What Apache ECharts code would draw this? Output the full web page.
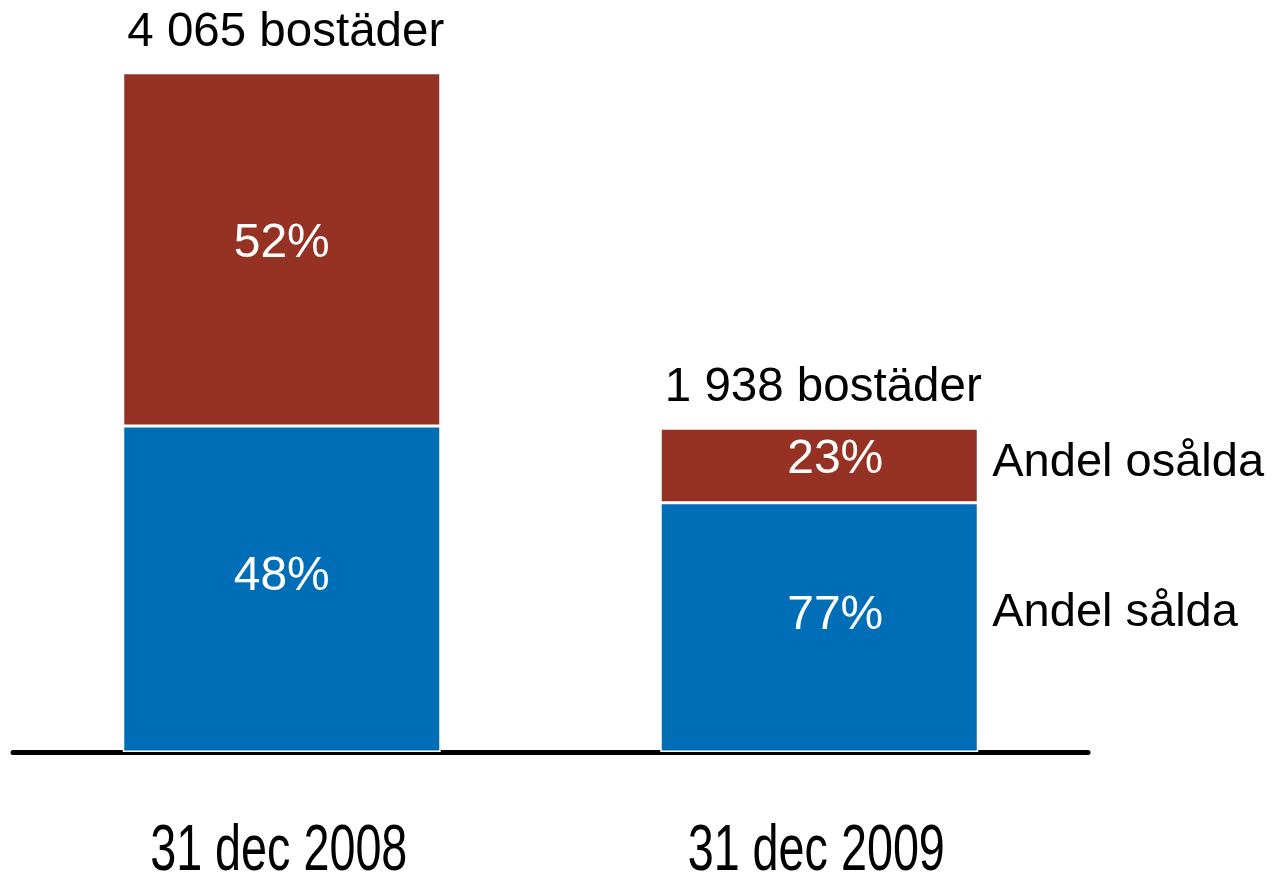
<!DOCTYPE html>
<html><head><meta charset="utf-8">
<script src="https://cdn.jsdelivr.net/npm/echarts@6/dist/echarts.min.js"></script>
<style>html,body{margin:0;padding:0;background:#fff}#c{width:1275px;height:880px}</style>
</head><body><div id="c"></div>
<script>
const categories = ['31 dec 2008', '31 dec 2009'];
const totals = [4065, 1938];
const soldPct = [48, 77];
const unsoldPct = [52, 23];
const soldValues = [1951, 1492];
const unsoldValues = [2114, 446];
const seriesNames = ['Andel sålda', 'Andel osålda'];

const RED = '#963223', BLUE = '#006EB6';
const font = "'Liberation Sans', Arial, sans-serif";
const pctOffsetX = [0, 16];
const BW = 318;

const chart = echarts.init(document.getElementById('c'), null, {renderer: 'canvas'});
chart.setOption({
  animation: false,
  backgroundColor: '#fff',
  grid: {left: 13, right: 187, top: 0, bottom: 128},
  xAxis: {
    type: 'category', data: categories,
    axisLine: {lineStyle: {color: '#000', width: 5}},
    axisTick: {show: false},
    axisLabel: {show: false}
  },
  yAxis: {type: 'value', min: 0, max: 4500, show: false, splitLine: {show: false}},
  series: [
    {
      name: seriesNames[0], type: 'bar', stack: 's', barWidth: BW,
      itemStyle: {color: BLUE, borderColor: '#fff', borderWidth: 1.5},
      data: soldValues.map((v, i) => ({value: v, label: {offset: [pctOffsetX[i], -12]}})),
      label: {show: true, position: 'inside', color: '#fff', fontSize: 48, fontFamily: font,
        formatter: p => soldPct[p.dataIndex] + '%'}
    },
    {
      name: seriesNames[1], type: 'bar', stack: 's', barWidth: BW,
      itemStyle: {color: RED, borderColor: '#fff', borderWidth: 1.5},
      data: unsoldValues.map((v, i) => ({value: v, label: {offset: [pctOffsetX[i], -6]}})),
      label: {show: true, position: 'inside', color: '#fff', fontSize: 48, fontFamily: font,
        formatter: p => unsoldPct[p.dataIndex] + '%'}
    },
    {
      name: 'total', type: 'bar', stack: 's', barWidth: BW,
      itemStyle: {color: 'transparent'},
      data: totals.map(() => 0),
      label: {show: true, position: 'top', distance: 16, color: '#000', fontSize: 47.5, fontFamily: font,
        offset: [4, 0],
        formatter: p => String(totals[p.dataIndex]).replace(/\B(?=(\d{3})+(?!\d))/g, ' ') + ' bostäder'}
    }
  ]
});

// Condensed category labels and right-side labels, positioned through the chart's scales
const last = categories.length - 1;
const px = (c, v) => chart.convertToPixel({gridIndex: 0}, [c, v]);
const rightEdge = px(last, 0)[0] + BW / 2 + 14;
const ySold = px(last, soldValues[last] / 2)[1] - 14;
const yUnsold = px(last, soldValues[last] + unsoldValues[last] / 2)[1] - 2;
const axisY = px(0, 0)[1];
const graphics = [
  {type: 'text', x: rightEdge, y: ySold, style: {text: seriesNames[0], fill: '#000', font: '47px ' + font, verticalAlign: 'middle', align: 'left'}},
  {type: 'text', x: rightEdge, y: yUnsold, style: {text: seriesNames[1], fill: '#000', font: '47px ' + font, verticalAlign: 'middle', align: 'left'}}
];
categories.forEach((c, i) => {
  graphics.push({type: 'text', x: px(i, 0)[0] - 3, y: axisY + 100, scaleX: 0.73,
    style: {text: c, fill: '#000', font: '64px ' + font, verticalAlign: 'middle', align: 'center'}});
});
chart.setOption({graphic: graphics});
</script>
</body></html>
